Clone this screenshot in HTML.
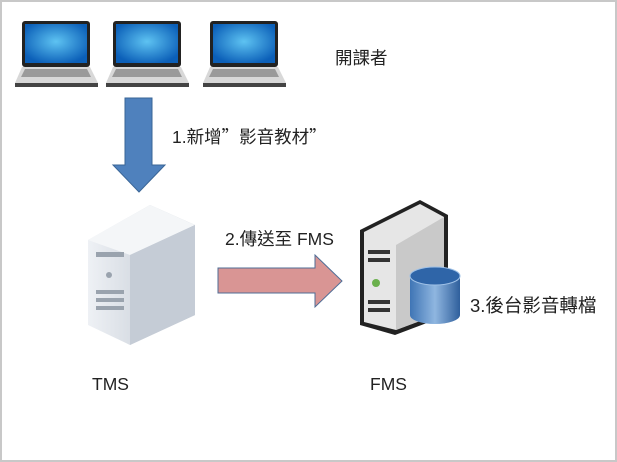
<!DOCTYPE html><html><head><style>body{margin:0;background:#fff}svg{display:block}text{font-family:"Liberation Sans","Noto Sans CJK TC",sans-serif;font-size:17.5px;fill:#222}.q{font-family:"Noto Sans CJK TC",sans-serif}</style></head><body>
<svg width="617" height="462" viewBox="0 0 617 462">
<defs>
<radialGradient id="scr" cx="50%" cy="45%" r="60%"><stop offset="0" stop-color="#5ec3f2"/><stop offset="1" stop-color="#0b5fb8"/></radialGradient>
<linearGradient id="sv" x1="0" x2="1"><stop offset="0" stop-color="#eef1f5"/><stop offset="1" stop-color="#b9c1cc"/></linearGradient>
<linearGradient id="cy" x1="0" x2="1"><stop offset="0" stop-color="#3f75b5"/><stop offset=".5" stop-color="#8fb6e0"/><stop offset="1" stop-color="#2f5f9c"/></linearGradient>
<g id="lap"><rect x="7" y="0" width="68" height="46" rx="3" fill="#222"/><rect x="10" y="3" width="62" height="39" fill="url(#scr)"/><path d="M7 46 L75 46 L83 62 L0 62 Z" fill="#d8d8d8"/><path d="M10 48 L72 48 L76 56 L6 56Z" fill="#9a9a9a"/><rect x="0" y="62" width="83" height="4" fill="#444"/></g>
</defs>
<rect x="1" y="1" width="615" height="460" fill="#fff" stroke="#c8c8c8" stroke-width="2"/>
<use href="#lap" x="15" y="21"/><use href="#lap" x="106" y="21"/><use href="#lap" x="203" y="21"/>
<text x="335" y="64">開課者</text>
<path d="M125 98 H152 V165 H165 L139 192 L113 165 H125Z" fill="#4f81bd" stroke="#3a6596"/>
<text x="172" y="143">1.新增<tspan class="q">”</tspan>影音教材<tspan class="q">”</tspan></text>
<path d="M88 240 L150 205 L195 225 L195 315 L130 345 L88 325Z" fill="url(#sv)"/>
<path d="M88 240 L150 205 L195 225 L130 255Z" fill="#f4f6f8"/>
<path d="M130 255 L195 225 L195 315 L130 345Z" fill="#c5ccd6"/>
<g fill="#9aa3ae"><rect x="96" y="252" width="28" height="5"/><rect x="96" y="290" width="28" height="4"/><rect x="96" y="298" width="28" height="4"/><rect x="96" y="306" width="28" height="4"/><circle cx="109" cy="275" r="3"/></g>
<path d="M218 268 H315 V255 L342 281 L315 307 V293 H218Z" fill="#d99594" stroke="#4f6d96"/>
<text x="225" y="245">2.傳送至 FMS</text>
<path d="M360 230 L420 200 L448 215 L448 315 L395 335 L360 325Z" fill="#222"/>
<path d="M364 232 L420 204 L444 217 L444 312 L396 330 L364 322Z" fill="#e6e6e6"/>
<path d="M396 245 L444 217 L444 312 L396 330Z" fill="#c9c9c9"/>
<g fill="#333"><rect x="368" y="250" width="22" height="4"/><rect x="368" y="258" width="22" height="4"/><rect x="368" y="300" width="22" height="4"/><rect x="368" y="308" width="22" height="4"/></g>
<circle cx="376" cy="283" r="4" fill="#6ab04c"/>
<path d="M410 276 V315 A25 9 0 0 0 460 315 V276Z" fill="url(#cy)"/>
<ellipse cx="435" cy="276" rx="25" ry="9" fill="#2f65a8" stroke="#9ec0e6"/>
<text x="470" y="312" style="font-size:18.5px">3.後台影音轉檔</text>
<text x="92" y="390">TMS</text>
<text x="370" y="390">FMS</text>
</svg></body></html>
